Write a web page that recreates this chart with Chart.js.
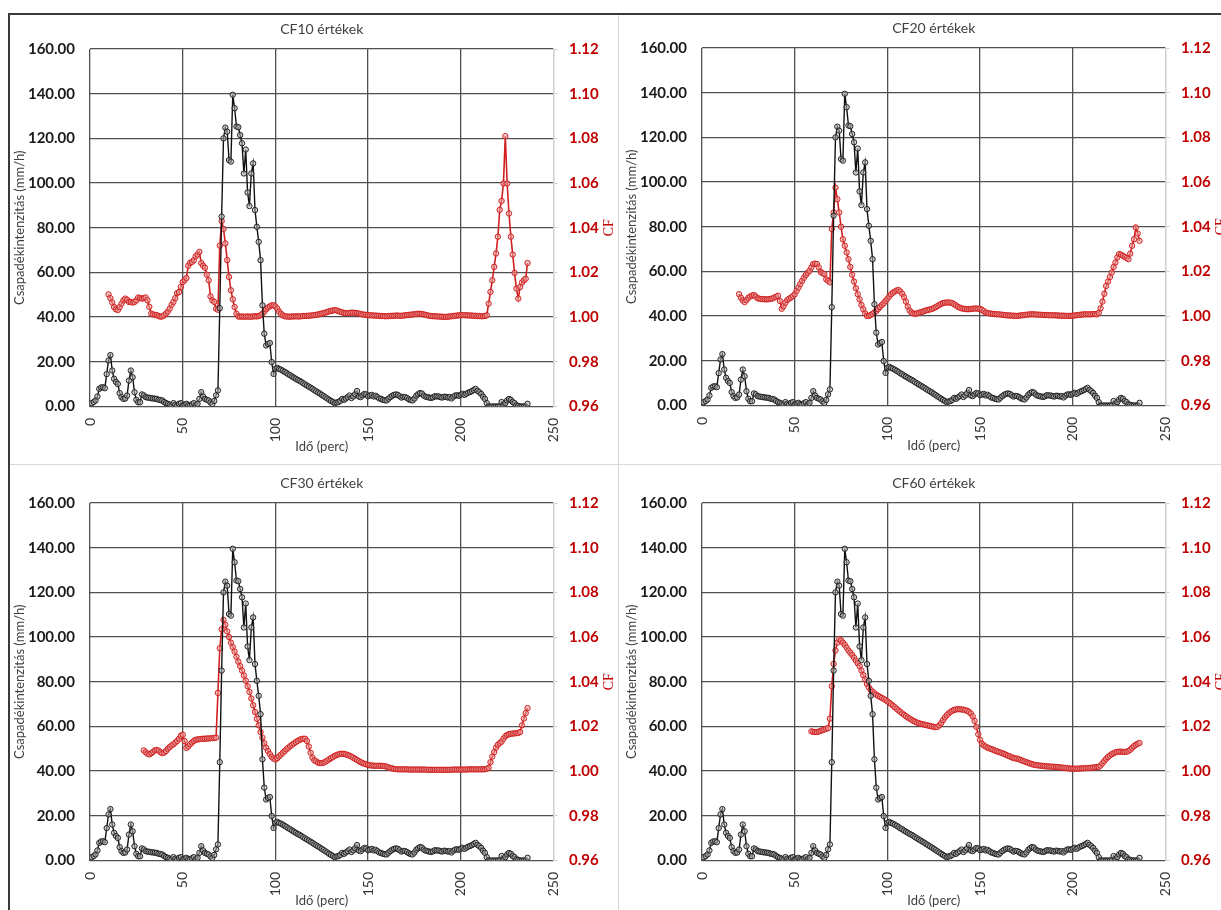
<!DOCTYPE html>
<html lang="hu">
<head>
<meta charset="utf-8">
<title>CF értékek</title>
<script src="https://cdn.jsdelivr.net/npm/chart.js@4.4.1/dist/chart.umd.min.js"></script>
<style>
    html, body { margin: 0; padding: 0; background: #fff; }
    body { width: 1221px; height: 910px; overflow: hidden; position: relative; }
    .frame { position: absolute; left: 8px; top: 13px; width: 1300px; height: 1000px;
             border-top: 2px solid #3a3a3a; border-left: 2px solid #3a3a3a; }
    .sep-v { position: absolute; left: 618px; top: 15px; width: 1px; height: 900px; background: #d9d9d9; }
    .sep-h { position: absolute; left: 10px; top: 464px; width: 1215px; height: 1px; background: #d9d9d9; }
    canvas { position: absolute; }
</style>
</head>
<body>
<div class="frame"></div>
<div class="sep-v"></div>
<div class="sep-h"></div>
<canvas id="cf10" width="612" height="450" style="left:9px; top:14px;"></canvas>
<canvas id="cf20" width="612" height="450" style="left:621px; top:13px;"></canvas>
<canvas id="cf30" width="612" height="450" style="left:9px; top:468px;"></canvas>
<canvas id="cf60" width="612" height="450" style="left:621px; top:468px;"></canvas>

<script>
// Tengelyek beosztása (közös mind a négy diagramon)
var xTicks = [0, 50, 100, 150, 200, 250];
var rainTicks = [0, 20, 40, 60, 80, 100, 120, 140, 160];
var cfTicks = [0.96, 0.98, 1.00, 1.02, 1.04, 1.06, 1.08, 1.10, 1.12];

var panelIds = ['cf10', 'cf20', 'cf30', 'cf60'];
var panelTitles = ['CF10 értékek', 'CF20 értékek', 'CF30 értékek', 'CF60 értékek'];

// Csapadékintenzitás (mm/h), percenként az 1. perctől
var rainStart = 1;
var rainValues = [
    1.5, 2.0, 2.7, 4.5, 7.9, 8.5, 8.6, 8.2, 14.5, 20.6,
    23.0, 16.1, 12.4, 11.0, 10.1, 6.0, 4.2, 3.4, 3.6, 4.9,
    11.6, 16.1, 13.1, 6.4, 3.0, 1.9, 1.9, 5.4, 5.0, 4.2,
    4.0, 3.9, 3.7, 3.6, 3.5, 3.4, 3.0, 2.9, 2.7, 2.0,
    1.5, 1.2, 0.8, 0.4, 1.5, 0.8, 0.4, 1.2, 1.5, 0.4,
    0.8, 1.2, 0.6, 0.4, 1.0, 1.5, 0.4, 1.2, 3.4, 6.4,
    4.5, 3.4, 3.0, 2.7, 1.8, 1.2, 2.5, 5.0, 7.2, 44.0,
    85.0, 120.0, 124.8, 123.0, 110.3, 109.6, 139.5, 133.5, 125.3, 125.0,
    121.5, 117.8, 104.3, 115.0, 95.8, 89.7, 104.3, 108.8, 87.9, 80.4,
    73.7, 65.5, 45.3, 32.6, 27.3, 28.0, 28.4, 19.9, 14.6, 16.9,
    17.3, 16.8, 16.5, 16.0, 15.5, 15.0, 14.4, 14.0, 13.4, 12.9,
    12.4, 11.9, 11.5, 11.0, 10.4, 9.9, 9.4, 8.9, 8.4, 7.9,
    7.3, 6.8, 6.3, 5.8, 5.2, 4.7, 4.1, 3.6, 3.0, 2.5,
    2.0, 1.5, 1.8, 2.0, 2.5, 3.4, 3.0, 3.6, 4.2, 4.9,
    3.8, 4.5, 5.5, 6.9, 4.5, 4.2, 5.0, 5.6, 5.4, 4.6,
    4.9, 5.2, 4.5, 4.8, 4.2, 3.6, 3.4, 3.0, 2.8, 2.7,
    3.5, 4.2, 4.8, 5.2, 5.4, 5.2, 4.6, 4.0, 4.3, 4.2,
    3.8, 3.2, 2.9, 2.7, 3.6, 4.8, 5.5, 6.0, 5.8, 4.9,
    4.4, 4.2, 4.0, 3.8, 4.1, 4.6, 4.5, 4.5, 4.2, 4.0,
    4.4, 4.3, 4.0, 4.2, 3.6, 4.4, 4.9, 5.0, 4.8, 5.3,
    5.7, 5.2, 5.7, 6.2, 6.5, 6.9, 7.4, 7.9, 7.0, 6.4,
    5.6, 4.4, 3.4, 1.5, 0.0, 0.0, 0.0, 0.0, 0.0, 0.0,
    0.0, 2.0, 0.5, 1.5, 2.7, 3.4, 3.0, 2.0, 1.5, 0.5,
    0.3, 0.0, 0.0, 0.0, 0.0, 1.2
];

// CF10 a 10. perctől
var cf10Start = 10;
var cf10Values = [
    1.0102, 1.0085, 1.0065, 1.0045, 1.0035, 1.0032, 1.0045, 1.0060, 1.0075, 1.0083,
    1.0078, 1.0068, 1.0068, 1.0065, 1.0068, 1.0075, 1.0088, 1.0085, 1.0083, 1.0085,
    1.0088, 1.0075, 1.0046, 1.0016, 1.0012, 1.0010, 1.0009, 1.0005, 1.0002, 1.0003,
    1.0008, 1.0016, 1.0025, 1.0038, 1.0055, 1.0068, 1.0085, 1.0108, 1.0112, 1.0135,
    1.0157, 1.0165, 1.0175, 1.0230, 1.0243, 1.0247, 1.0255, 1.0272, 1.0280, 1.0292,
    1.0242, 1.0230, 1.0221, 1.0190, 1.0165, 1.0093, 1.0075, 1.0068, 1.0038, 1.0033,
    1.0320, 1.0430, 1.0395, 1.0330, 1.0255, 1.0180, 1.0120, 1.0080, 1.0045, 1.0015,
    1.0003, 1.0002, 1.0003, 1.0002, 1.0002, 1.0003, 1.0002, 1.0002, 1.0003, 1.0004,
    1.0003, 1.0005, 1.0008, 1.0015, 1.0025, 1.0035, 1.0043, 1.0048, 1.0053, 1.0053,
    1.0048, 1.0038, 1.0025, 1.0015, 1.0008, 1.0004, 1.0003, 1.0002, 1.0002, 1.0003,
    1.0003, 1.0004, 1.0003, 1.0003, 1.0004, 1.0005, 1.0005, 1.0006, 1.0006, 1.0007,
    1.0008, 1.0009, 1.0010, 1.0012, 1.0014, 1.0016, 1.0018, 1.0020, 1.0023, 1.0026,
    1.0028, 1.0030, 1.0031, 1.0030, 1.0027, 1.0024, 1.0021, 1.0019, 1.0018, 1.0018,
    1.0019, 1.0020, 1.0020, 1.0019, 1.0018, 1.0016, 1.0014, 1.0012, 1.0011, 1.0010,
    1.0009, 1.0008, 1.0008, 1.0007, 1.0007, 1.0006, 1.0006, 1.0005, 1.0005, 1.0004,
    1.0004, 1.0005, 1.0005, 1.0006, 1.0006, 1.0007, 1.0007, 1.0006, 1.0006, 1.0007,
    1.0008, 1.0009, 1.0010, 1.0011, 1.0012, 1.0013, 1.0014, 1.0015, 1.0015, 1.0014,
    1.0012, 1.0010, 1.0008, 1.0006, 1.0005, 1.0004, 1.0004, 1.0003, 1.0003, 1.0002,
    1.0002, 1.0001, 1.0001, 1.0002, 1.0003, 1.0004, 1.0005, 1.0006, 1.0007, 1.0008,
    1.0008, 1.0009, 1.0009, 1.0008, 1.0008, 1.0007, 1.0007, 1.0006, 1.0006, 1.0005,
    1.0005, 1.0004, 1.0004, 1.0005, 1.0008, 1.0060, 1.0113, 1.0165, 1.0225, 1.0285,
    1.0360, 1.0480, 1.0520, 1.0598, 1.0810, 1.0598, 1.0464, 1.0360, 1.0280, 1.0198,
    1.0128, 1.0083, 1.0135, 1.0155, 1.0165, 1.0172, 1.0242
];

// CF20 a 20. perctől
var cf20Start = 20;
var cf20Values = [
    1.0098, 1.0082, 1.0070, 1.0063, 1.0072, 1.0082, 1.0088, 1.0092, 1.0094, 1.0088,
    1.0080, 1.0078, 1.0076, 1.0076, 1.0075, 1.0075, 1.0076, 1.0077, 1.0079, 1.0083,
    1.0087, 1.0091, 1.0068, 1.0033, 1.0045, 1.0060, 1.0072, 1.0078, 1.0083, 1.0090,
    1.0098, 1.0113, 1.0128, 1.0143, 1.0158, 1.0172, 1.0184, 1.0194, 1.0203, 1.0218,
    1.0233, 1.0235, 1.0233, 1.0218, 1.0198, 1.0192, 1.0188, 1.0165, 1.0158, 1.0151,
    1.0390, 1.0464, 1.0575, 1.0523, 1.0464, 1.0400, 1.0344, 1.0315, 1.0285, 1.0255,
    1.0220, 1.0185, 1.0155, 1.0125, 1.0098, 1.0075, 1.0050, 1.0031, 1.0012, 1.0001,
    1.0001, 1.0005, 1.0010, 1.0017, 1.0023, 1.0032, 1.0041, 1.0050, 1.0058, 1.0068,
    1.0078, 1.0088, 1.0098, 1.0105, 1.0110, 1.0115, 1.0117, 1.0110, 1.0100, 1.0085,
    1.0065, 1.0043, 1.0025, 1.0016, 1.0012, 1.0010, 1.0012, 1.0015, 1.0018, 1.0020,
    1.0023, 1.0026, 1.0028, 1.0030, 1.0032, 1.0036, 1.0040, 1.0045, 1.0050, 1.0055,
    1.0058, 1.0060, 1.0061, 1.0061, 1.0060, 1.0058, 1.0053, 1.0048, 1.0042, 1.0038,
    1.0035, 1.0033, 1.0032, 1.0031, 1.0031, 1.0032, 1.0033, 1.0034, 1.0034, 1.0033,
    1.0033, 1.0028, 1.0022, 1.0016, 1.0014, 1.0012, 1.0011, 1.0010, 1.0009, 1.0008,
    1.0008, 1.0007, 1.0006, 1.0005, 1.0004, 1.0003, 1.0003, 1.0002, 1.0002, 1.0001,
    1.0001, 1.0002, 1.0003, 1.0004, 1.0005, 1.0006, 1.0007, 1.0008, 1.0008, 1.0008,
    1.0007, 1.0007, 1.0006, 1.0006, 1.0005, 1.0005, 1.0005, 1.0004, 1.0004, 1.0004,
    1.0004, 1.0003, 1.0003, 1.0002, 1.0002, 1.0002, 1.0001, 1.0001, 1.0001, 1.0001,
    1.0002, 1.0003, 1.0004, 1.0005, 1.0006, 1.0007, 1.0008, 1.0008, 1.0008, 1.0008,
    1.0008, 1.0009, 1.0009, 1.0008, 1.0015, 1.0035, 1.0065, 1.0100, 1.0135, 1.0155,
    1.0175, 1.0195, 1.0220, 1.0240, 1.0263, 1.0278, 1.0275, 1.0270, 1.0265, 1.0260,
    1.0255, 1.0280, 1.0315, 1.0344, 1.0397, 1.0370, 1.0337
];

// CF30 a 29. perctől
var cf30Start = 29;
var cf30Values = [
    1.0093, 1.0085, 1.0078, 1.0075, 1.0080, 1.0086, 1.0093, 1.0095, 1.0092, 1.0085, 1.0080,
    1.0083, 1.0090, 1.0100, 1.0108, 1.0115, 1.0120, 1.0128, 1.0135, 1.0145, 1.0158,
    1.0163, 1.0135, 1.0104, 1.0110, 1.0120, 1.0128, 1.0135, 1.0140, 1.0142, 1.0143,
    1.0144, 1.0145, 1.0145, 1.0146, 1.0146, 1.0147, 1.0148, 1.0148, 1.0150, 1.0350,
    1.0550, 1.0635, 1.0677, 1.0655, 1.0625, 1.0600, 1.0575, 1.0555, 1.0535, 1.0512,
    1.0490, 1.0470, 1.0450, 1.0428, 1.0405, 1.0380, 1.0355, 1.0325, 1.0295, 1.0265,
    1.0234, 1.0205, 1.0175, 1.0150, 1.0125, 1.0105, 1.0090, 1.0076, 1.0064, 1.0056,
    1.0052, 1.0058, 1.0066, 1.0074, 1.0082, 1.0090, 1.0098, 1.0105, 1.0112, 1.0118,
    1.0124, 1.0130, 1.0135, 1.0140, 1.0143, 1.0145, 1.0145, 1.0135, 1.0110, 1.0082,
    1.0060, 1.0048, 1.0044, 1.0038, 1.0036, 1.0036, 1.0038, 1.0042, 1.0047, 1.0053,
    1.0058, 1.0063, 1.0068, 1.0072, 1.0075, 1.0077, 1.0078, 1.0077, 1.0075, 1.0072,
    1.0069, 1.0065, 1.0060, 1.0055, 1.0050, 1.0045, 1.0040, 1.0036, 1.0033, 1.0030,
    1.0028, 1.0026, 1.0025, 1.0024, 1.0024, 1.0024, 1.0024, 1.0024, 1.0023, 1.0022,
    1.0020, 1.0017, 1.0014, 1.0012, 1.0010, 1.0009, 1.0008, 1.0008, 1.0008, 1.0008,
    1.0008, 1.0008, 1.0007, 1.0007, 1.0007, 1.0007, 1.0007, 1.0007, 1.0007, 1.0007,
    1.0007, 1.0007, 1.0006, 1.0006, 1.0006, 1.0006, 1.0006, 1.0006, 1.0006, 1.0006,
    1.0006, 1.0006, 1.0006, 1.0006, 1.0006, 1.0006, 1.0007, 1.0007, 1.0007, 1.0007,
    1.0007, 1.0007, 1.0007, 1.0007, 1.0008, 1.0008, 1.0008, 1.0008, 1.0008, 1.0008,
    1.0008, 1.0008, 1.0008, 1.0008, 1.0010, 1.0015, 1.0040, 1.0065, 1.0085, 1.0105,
    1.0118, 1.0126, 1.0132, 1.0145, 1.0156, 1.0162, 1.0165, 1.0167, 1.0168, 1.0169,
    1.0170, 1.0171, 1.0175, 1.0205, 1.0235, 1.0260, 1.0282
];

// CF60 az 59. perctől
var cf60Start = 59;
var cf60Values = [
    1.0178,
    1.0176, 1.0175, 1.0175, 1.0177, 1.0180, 1.0183, 1.0186, 1.0190, 1.0192, 1.0235,
    1.0380, 1.0480, 1.0540, 1.0575, 1.0590, 1.0585, 1.0575, 1.0565, 1.0553, 1.0540,
    1.0530, 1.0520, 1.0508, 1.0495, 1.0483, 1.0470, 1.0450, 1.0430, 1.0410, 1.0390,
    1.0375, 1.0363, 1.0355, 1.0348, 1.0342, 1.0337, 1.0332, 1.0328, 1.0323, 1.0318,
    1.0312, 1.0306, 1.0300, 1.0293, 1.0286, 1.0279, 1.0272, 1.0265, 1.0258, 1.0252,
    1.0246, 1.0240, 1.0235, 1.0230, 1.0225, 1.0221, 1.0217, 1.0214, 1.0212, 1.0210,
    1.0208, 1.0206, 1.0204, 1.0202, 1.0200, 1.0198, 1.0197, 1.0198, 1.0205, 1.0215,
    1.0228, 1.0240, 1.0250, 1.0258, 1.0265, 1.0270, 1.0274, 1.0276, 1.0277, 1.0277,
    1.0276, 1.0275, 1.0273, 1.0270, 1.0265, 1.0258, 1.0245, 1.0225, 1.0198, 1.0165,
    1.0140, 1.0123, 1.0115, 1.0110, 1.0105, 1.0102, 1.0099, 1.0096, 1.0092, 1.0089,
    1.0086, 1.0083, 1.0080, 1.0077, 1.0073, 1.0069, 1.0066, 1.0062, 1.0059, 1.0057,
    1.0056, 1.0053, 1.0050, 1.0046, 1.0043, 1.0040, 1.0037, 1.0034, 1.0031, 1.0029,
    1.0027, 1.0026, 1.0025, 1.0024, 1.0023, 1.0022, 1.0021, 1.0021, 1.0020, 1.0020,
    1.0019, 1.0019, 1.0018, 1.0017, 1.0016, 1.0015, 1.0014, 1.0013, 1.0012, 1.0011,
    1.0011, 1.0011, 1.0011, 1.0011, 1.0012, 1.0012, 1.0013, 1.0013, 1.0014, 1.0014,
    1.0015, 1.0016, 1.0017, 1.0018, 1.0019, 1.0025, 1.0035, 1.0045, 1.0055, 1.0063,
    1.0070, 1.0076, 1.0080, 1.0084, 1.0086, 1.0087, 1.0087, 1.0086, 1.0086, 1.0087,
    1.0090, 1.0096, 1.0104, 1.0112, 1.0118, 1.0122, 1.0126
];

var cfStarts = [cf10Start, cf20Start, cf30Start, cf60Start];
var cfSeries = [cf10Values, cf20Values, cf30Values, cf60Values];

// Színek, betűk
var gridDark = '#505050';
var gridLight = '#d0d0d0';
var textGray = '#404040';
var cfRed = '#c00000';

// percenkénti értékekből {x, y} pontok
function toPoints(start, values) {
    var pts = [];
    values.forEach(function(v, i) {
        pts.push({ x: start + i, y: v });
    });
    return pts;
}

// a jobb oldali "CF" tengelycím alulról felfelé olvasva (mint az Excelben)
var cfTitlePlugin = {
    id: 'cfTitle',
    afterDraw: function(chart) {
        var s = chart.scales.y1;
        var c = chart.ctx;
        c.save();
        c.translate(s.right - 12, (s.top + s.bottom) / 2);
        c.rotate(-Math.PI / 2);
        c.fillStyle = cfRed;
        c.font = '14px "Liberation Serif", serif';
        c.textAlign = 'center';
        c.textBaseline = 'middle';
        c.fillText('CF', 0, 0);
        c.restore();
    }
};

function makeChart(canvasId, title, cfStart, cfValues) {
    var ctx = document.getElementById(canvasId).getContext('2d');
    var xMax = xTicks[xTicks.length - 1];

    return new Chart(ctx, {
        type: 'line',
        data: {
            datasets: [{
                label: 'Csapadékintenzitás',
                data: toPoints(rainStart, rainValues),
                yAxisID: 'y',
                borderColor: '#111',
                borderWidth: 1.4,
                pointRadius: 2.7,
                pointBorderWidth: 1,
                pointBorderColor: '#222',
                pointBackgroundColor: 'rgba(175,175,175,0.55)',
                tension: 0
            }, {
                label: 'CF',
                data: toPoints(cfStart, cfValues),
                yAxisID: 'y1',
                borderColor: '#d21f1f',
                borderWidth: 1.6,
                pointRadius: 2.7,
                pointBorderWidth: 1,
                pointBorderColor: '#d02020',
                pointBackgroundColor: 'rgba(235,160,160,0.55)',
                tension: 0
            }]
        },
        options: {
            responsive: false,
            animation: false,
            events: [],
            layout: { padding: 0 },
            plugins: {
                legend: { display: false },
                tooltip: { enabled: false },
                title: {
                    display: true,
                    text: title,
                    fullSize: false,
                    color: textGray,
                    font: { family: 'Lato', size: 14, weight: 'normal' },
                    padding: { top: 6.6, bottom: 11.6 }
                }
            },
            scales: {
                x: {
                    type: 'linear',
                    min: xTicks[0],
                    max: xMax,
                    afterFit: function(scale) { scale.height = 57.5; },
                    ticks: {
                        stepSize: xTicks[1] - xTicks[0],
                        minRotation: 90,
                        maxRotation: 90,
                        padding: 11.5,
                        color: '#333',
                        font: { family: 'Lato', size: 14 },
                        callback: function(value) { return String(value); }
                    },
                    grid: {
                        drawTicks: false,
                        lineWidth: 1.3,
                        color: function(c) {
                            return (c.tick && c.tick.value === xMax) ? gridLight : gridDark;
                        }
                    },
                    border: { display: false },
                    title: {
                        display: true,
                        text: 'Idő (perc)',
                        color: textGray,
                        font: { family: 'Lato', size: 13 },
                        padding: { top: 0, bottom: 9.2 }
                    }
                },
                y: {
                    position: 'left',
                    min: rainTicks[0],
                    max: rainTicks[rainTicks.length - 1],
                    afterFit: function(scale) { scale.width = 81; },
                    ticks: {
                        stepSize: rainTicks[1] - rainTicks[0],
                        padding: 15,
                        color: '#1a1a1a',
                        font: { family: 'Lato', size: 15, weight: 'bold' },
                        callback: function(value) { return value.toFixed(2); }
                    },
                    grid: { drawTicks: false, lineWidth: 1.3, color: gridDark },
                    border: { display: false },
                    title: {
                        display: true,
                        text: 'Csapadékintenzitás (mm/h)',
                        color: textGray,
                        font: { family: 'Lato', size: 13 },
                        padding: { top: 3.2, bottom: 0 }
                    }
                },
                y1: {
                    position: 'right',
                    min: cfTicks[0],
                    max: cfTicks[cfTicks.length - 1],
                    afterFit: function(scale) { scale.width = 67.5; },
                    ticks: {
                        stepSize: +(cfTicks[1] - cfTicks[0]).toFixed(4),
                        padding: 11.5,
                        color: cfRed,
                        font: { family: 'Lato', size: 15, weight: 'bold' },
                        callback: function(value) { return value.toFixed(2); }
                    },
                    grid: { drawOnChartArea: false, tickLength: 4, color: gridLight, lineWidth: 1 },
                    border: { color: gridLight, width: 1.3 },
                    title: { display: false }
                }
            }
        },
        plugins: [cfTitlePlugin]
    });
}

// a négy panel felrajzolása
panelIds.forEach(function(id, i) {
    makeChart(id, panelTitles[i], cfStarts[i], cfSeries[i]);
});
</script>
</body>
</html>
